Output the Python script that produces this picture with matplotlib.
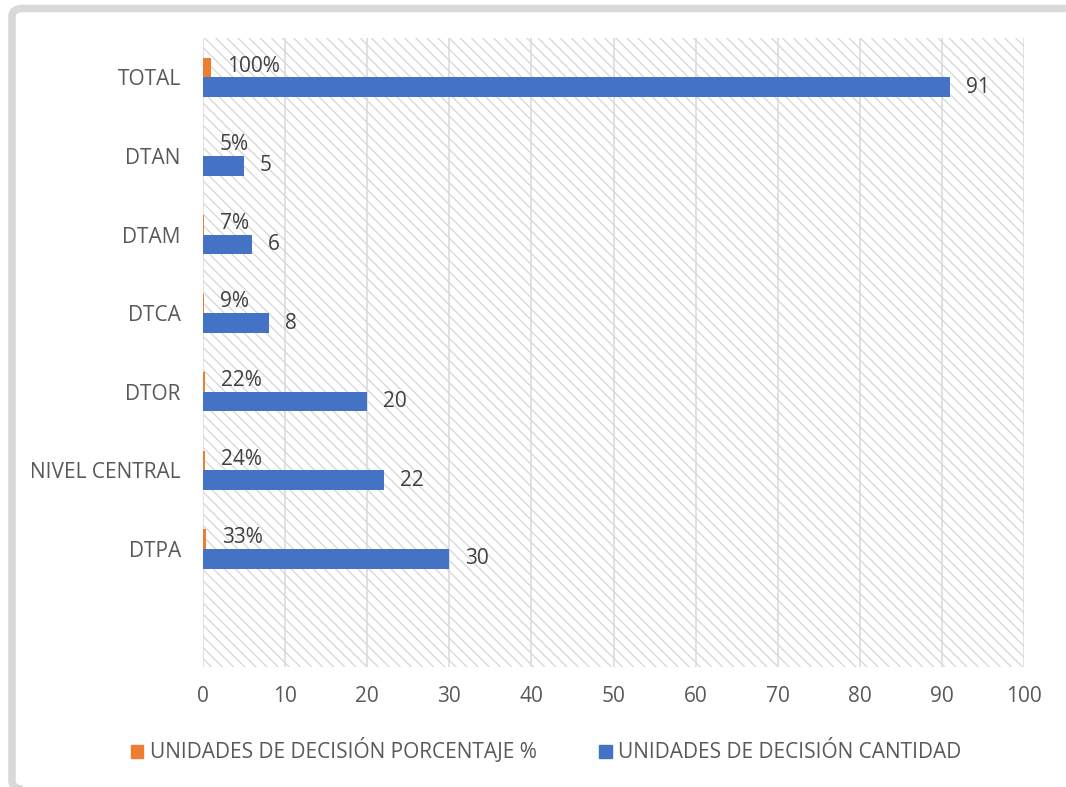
import matplotlib.pyplot as plt
from matplotlib.patches import Rectangle, FancyBboxPatch

# Data (bottom to top, first slot is an empty category)
categories = ['', 'DTPA', 'NIVEL CENTRAL', 'DTOR', 'DTCA', 'DTAM', 'DTAN', 'TOTAL']
cantidad = [None, 30, 22, 20, 8, 6, 5, 91]
porcentaje = [None, 0.33, 0.24, 0.22, 0.09, 0.07, 0.05, 1.00]
pct_labels = ['', '33%', '24%', '22%', '9%', '7%', '5%', '100%']
x_ticks = [0, 10, 20, 30, 40, 50, 60, 70, 80, 90, 100]

ORANGE = '#ED7D31'
BLUE = '#4472C4'
TXT = '#595959'
GRID = '#d9d9d9'

plt.rcParams['font.family'] = ['Open Sans', 'DejaVu Sans']
plt.rcParams['hatch.linewidth'] = 0.9

W, H = 1066, 787
fig = plt.figure(figsize=(W / 100, H / 100), dpi=100)

# chart border (right side runs off the picture)
border = FancyBboxPatch((12 / W, -2 / H), 1.2, (H - 8.5 + 2) / H,
                        boxstyle='round,pad=0,rounding_size=0.01',
                        transform=fig.transFigure, facecolor='none',
                        edgecolor=GRID, linewidth=5.4, zorder=-1)
fig.patches.append(border)

ax = fig.add_axes([203 / W, 1 - 667 / H, (1024 - 203) / W, (667 - 38) / H])
ax.set_facecolor('none')

# hatched plot area
bg = Rectangle((0, 0), 1, 1, transform=ax.transAxes, facecolor='white',
               edgecolor='#d6d6d6', hatch='\\\\\\', linewidth=0, zorder=0)
ax.add_patch(bg)

ypos = list(range(len(categories)))
h = 0.25
for i in ypos:
    if cantidad[i] is None:
        continue
    ax.barh(i + h / 2, porcentaje[i], height=h, color=ORANGE, zorder=3)
    ax.barh(i - h / 2, cantidad[i], height=h, color=BLUE, zorder=3)
    ax.annotate(pct_labels[i], (porcentaje[i], i + h / 2), xytext=(11.5, 1),
                textcoords='offset points', va='center', ha='left',
                fontsize=15, color='#404040', zorder=4)
    ax.annotate(str(cantidad[i]), (cantidad[i], i - h / 2), xytext=(11.5, 0),
                textcoords='offset points', va='center', ha='left',
                fontsize=15, color='#404040', zorder=4)

ax.set_xlim(0, 100)
ax.set_ylim(-0.5, len(categories) - 0.5)
ax.set_xticks(x_ticks)
ax.set_yticks(ypos)
ax.set_yticklabels(categories)
ax.tick_params(axis='both', length=0, labelsize=15, labelcolor=TXT)
ax.tick_params(axis='x', pad=14)
ax.tick_params(axis='y', pad=16)
ax.grid(axis='x', color=GRID, linewidth=1.1, zorder=1)
ax.set_axisbelow(True)
for s in ax.spines.values():
    s.set_visible(False)

handles = [Rectangle((0, 0), 1, 1, color=ORANGE), Rectangle((0, 0), 1, 1, color=BLUE)]
fig.legend(handles, ['UNIDADES DE DECISIÓN PORCENTAJE %', 'UNIDADES DE DECISIÓN CANTIDAD'],
           loc='center', bbox_to_anchor=(546 / W, 1 - 751 / H), ncol=2, frameon=False,
           fontsize=15, labelcolor=TXT, handlelength=0.6, handleheight=0.6,
           handletextpad=0.3, columnspacing=3.0)

fig.savefig('out.png', dpi=100)
